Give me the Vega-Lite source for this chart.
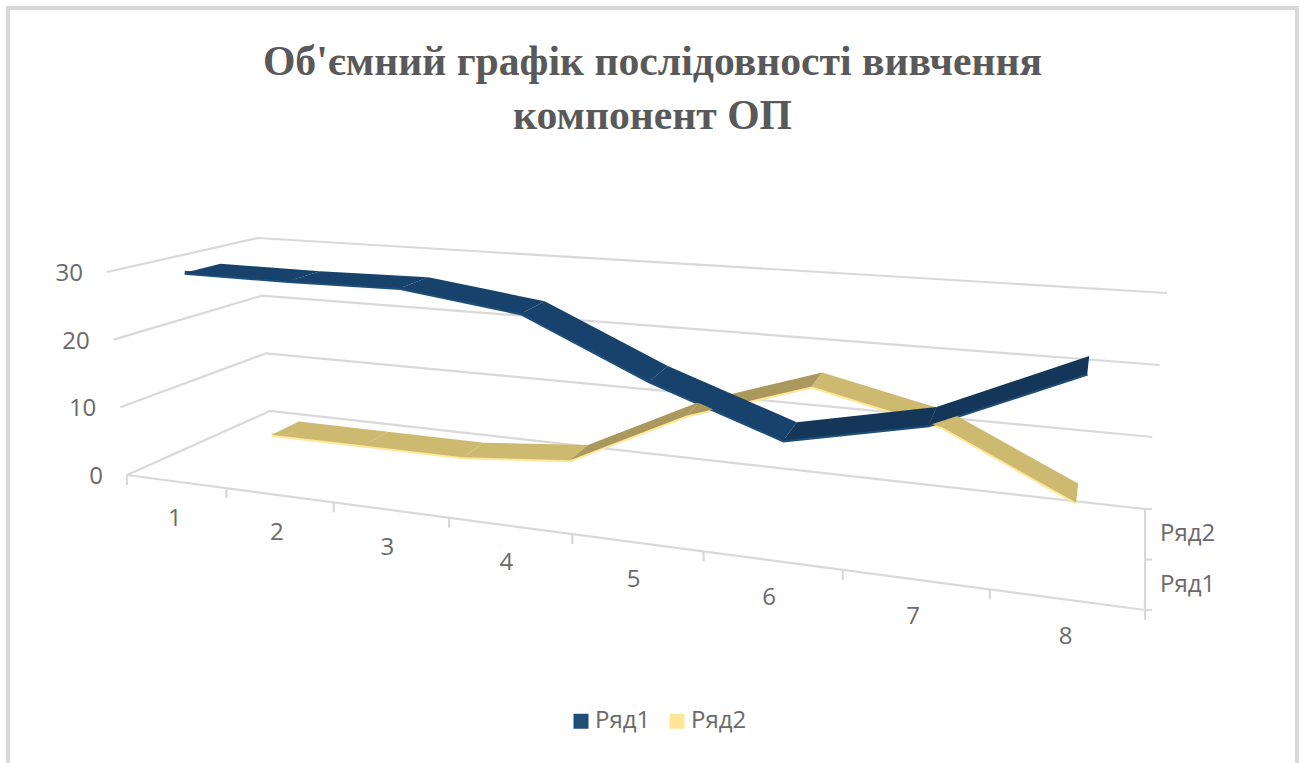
{"$schema":"https://vega.github.io/schema/vega-lite/v6.json","width":1289,"height":762,"autosize":"none","padding":{"left":8,"top":8,"right":8,"bottom":0},"background":"#ffffff","view":{"stroke":"#d9d9d9","strokeWidth":4,"fill":"#ffffff"},"title":{"text":["Об'ємний графік послідовності вивчення","компонент ОП"],"font":"Liberation Serif","fontWeight":"bold","fontSize":41.7,"lineHeight":54,"color":"#595959","anchor":"middle","frame":"group","baseline":"top","offset":0,"dy":130},"datasets":{"lines":[{"series":"Ряд2","category":1,"value":0},{"series":"Ряд2","category":2,"value":0},{"series":"Ряд2","category":3,"value":0},{"series":"Ряд2","category":4,"value":1.5},{"series":"Ряд2","category":5,"value":10},{"series":"Ряд2","category":6,"value":16},{"series":"Ряд2","category":7,"value":12},{"series":"Ряд2","category":8,"value":3.7},{"series":"Ряд1","category":1,"value":29.5},{"series":"Ряд1","category":2,"value":29.5},{"series":"Ряд1","category":3,"value":29.8},{"series":"Ряд1","category":4,"value":27.6},{"series":"Ряд1","category":5,"value":19.8},{"series":"Ряд1","category":6,"value":13.7},{"series":"Ряд1","category":7,"value":17.6},{"series":"Ряд1","category":8,"value":26}],"levels":[{"level":0},{"level":10},{"level":20},{"level":30}],"boundaries":[{"b":0},{"b":1},{"b":2},{"b":3},{"b":4},{"b":5},{"b":6},{"b":7},{"b":8}],"cats":[{"category":1},{"category":2},{"category":3},{"category":4},{"category":5},{"category":6},{"category":7},{"category":8}],"depthTicks":[{"dt":0},{"dt":0.5},{"dt":1}],"depthLabels":[{"name":"Ряд1","dt":0.25},{"name":"Ряд2","dt":0.75}]},"encoding":{"x":{"field":"sx","type":"quantitative","scale":{"domain":[8,1297],"nice":false,"zero":false},"axis":null},"y":{"field":"sy","type":"quantitative","scale":{"domain":[770,8],"nice":false,"zero":false},"axis":null}},"resolve":{"scale":{"color":"independent"}},"layer":[{"data":{"name":"levels"},"transform":[{"calculate":"[0,1,2]","as":"corner"},{"flatten":["corner"]},{"calculate":"datum.corner==2?1:0","as":"u"},{"calculate":"datum.corner>=1?1:0","as":"d"},{"calculate":"datum.level/30","as":"w"},{"calculate":"(1-datum.d)*((1-datum.w)*(127+1018*datum.u)+datum.w*(107+1065*datum.u))+datum.d*((1-datum.w)*(270+875*datum.u)+datum.w*(258+909*datum.u))","as":"sx"},{"calculate":"(1-datum.d)*((1-datum.w)*(475+135*datum.u)+datum.w*(272+89*datum.u))+datum.d*((1-datum.w)*(411+98*datum.u)+datum.w*(238+55*datum.u))","as":"sy"}],"mark":{"type":"line","color":"#d9d9d9","strokeWidth":2.2,"clip":true},"encoding":{"detail":{"field":"level"},"order":{"field":"corner"}}},{"data":{"values":[{"edge":"front","p":0,"u":0,"d":0},{"edge":"front","p":1,"u":1,"d":0},{"edge":"right","p":0,"u":1,"d":0},{"edge":"right","p":1,"u":1,"d":1}]},"transform":[{"calculate":"127+1018*datum.u+(datum.d*(270+875*datum.u-127-1018*datum.u))","as":"sx"},{"calculate":"475+135*datum.u+(datum.d*(411+98*datum.u-475-135*datum.u))","as":"sy"}],"mark":{"type":"line","color":"#d9d9d9","strokeWidth":2.2},"encoding":{"detail":{"field":"edge"},"order":{"field":"p"}}},{"data":{"name":"boundaries"},"transform":[{"calculate":"(datum.b/8)+0.25*(datum.b/8)*(datum.b/8-1)","as":"u"},{"calculate":"127+1018*datum.u","as":"sx"},{"calculate":"475+135*datum.u","as":"sy"},{"calculate":"datum.sy+10","as":"sy2"}],"mark":{"type":"rule","color":"#d9d9d9","strokeWidth":2.2},"encoding":{"y2":{"field":"sy2"}}},{"data":{"name":"depthTicks"},"transform":[{"calculate":"1145","as":"sx"},{"calculate":"610-101*datum.dt","as":"sy"},{"calculate":"datum.sx+7","as":"sx2"}],"mark":{"type":"rule","color":"#d9d9d9","strokeWidth":2.2},"encoding":{"x2":{"field":"sx2"}}},{"data":{"name":"lines"},"transform":[{"calculate":"(datum.category-0.5)/8","as":"t"},{"calculate":"datum.t+0.264*datum.t*(datum.t-1)","as":"u"},{"calculate":"datum.series=='Ряд1'?0.19:0.71","as":"d"},{"calculate":"datum.value/30","as":"w"},{"calculate":"(1-datum.d)*((1-datum.w)*(127+1018*datum.u)+datum.w*(107+1065*datum.u))+datum.d*((1-datum.w)*(270+875*datum.u)+datum.w*(258+909*datum.u))","as":"sx"},{"calculate":"(1-datum.d)*((1-datum.w)*(475+135*datum.u)+datum.w*(272+89*datum.u))+datum.d*((1-datum.w)*(411+98*datum.u)+datum.w*(238+55*datum.u))","as":"sy"}],"mark":{"type":"line","strokeWidth":4,"strokeJoin":"miter"},"encoding":{"color":{"field":"series","type":"nominal","scale":{"domain":["Ряд1","Ряд2"],"range":["#1f4e79","#ffe699"]},"legend":{"title":null,"orient":"none","legendX":561,"legendY":701,"direction":"horizontal","symbolType":"square","symbolSize":49,"symbolStrokeWidth":8,"labelFont":"Open Sans","labelFontSize":24,"labelColor":"#6a6a6a","labelOffset":2,"columnPadding":6,"symbolOpacity":1}},"order":{"field":"category"}}},{"data":{"name":"lines"},"transform":[{"window":[{"op":"lead","field":"value","as":"nextValue"}],"sort":[{"field":"category"}],"groupby":["series"]},{"filter":"isValid(datum.nextValue)"},{"calculate":"[0,1,2,3]","as":"corner"},{"flatten":["corner"]},{"calculate":"(datum.corner==1||datum.corner==2)?datum.category+1:datum.category","as":"pos"},{"calculate":"(datum.corner==1||datum.corner==2)?datum.nextValue:datum.value","as":"val"},{"calculate":"datum.series+(datum.nextValue>datum.value+2?' rising':' level')","as":"shade"},{"calculate":"datum.series+'-'+datum.category","as":"segment"},{"calculate":"(datum.pos-0.5)/8","as":"t"},{"calculate":"datum.t+0.264*datum.t*(datum.t-1)","as":"u"},{"calculate":"datum.series=='Ряд1'?(0.19+(datum.corner>=2?0.25:0)):(0.71+(datum.corner>=2?0.2:0))","as":"d"},{"calculate":"datum.val/30","as":"w"},{"calculate":"(1-datum.d)*((1-datum.w)*(127+1018*datum.u)+datum.w*(107+1065*datum.u))+datum.d*((1-datum.w)*(270+875*datum.u)+datum.w*(258+909*datum.u))","as":"sx"},{"calculate":"(1-datum.d)*((1-datum.w)*(475+135*datum.u)+datum.w*(272+89*datum.u))+datum.d*((1-datum.w)*(411+98*datum.u)+datum.w*(238+55*datum.u))","as":"sy"}],"mark":{"type":"line","filled":true,"strokeWidth":1.5},"encoding":{"color":{"field":"shade","type":"nominal","scale":{"domain":["Ряд1 level","Ряд1 rising","Ряд2 level","Ряд2 rising"],"range":["#17426b","#143759","#cdb96f","#ab985c"]},"legend":null},"detail":{"field":"segment"},"order":{"field":"corner"}}},{"data":{"name":"levels"},"transform":[{"calculate":"datum.level/30","as":"w"},{"calculate":"127-20*datum.w","as":"sx"},{"calculate":"475-203*datum.w","as":"sy"}],"mark":{"type":"text","font":"Open Sans","fontSize":24,"color":"#6a6a6a","align":"right","baseline":"middle","dx":-24,"dy":2},"encoding":{"text":{"field":"level"}}},{"data":{"name":"cats"},"transform":[{"calculate":"(datum.category-0.5)/8","as":"t"},{"calculate":"datum.t+0.264*datum.t*(datum.t-1)","as":"u"},{"calculate":"127+1018*datum.u","as":"sx"},{"calculate":"475+135*datum.u","as":"sy"}],"mark":{"type":"text","font":"Open Sans","fontSize":24,"color":"#6a6a6a","align":"center","baseline":"middle","dy":38},"encoding":{"text":{"field":"category"}}},{"data":{"name":"depthLabels"},"transform":[{"calculate":"1145","as":"sx"},{"calculate":"610-101*datum.dt","as":"sy"}],"mark":{"type":"text","font":"Open Sans","fontSize":24,"color":"#6a6a6a","align":"left","baseline":"middle","dx":15},"encoding":{"text":{"field":"name"}}}]}
